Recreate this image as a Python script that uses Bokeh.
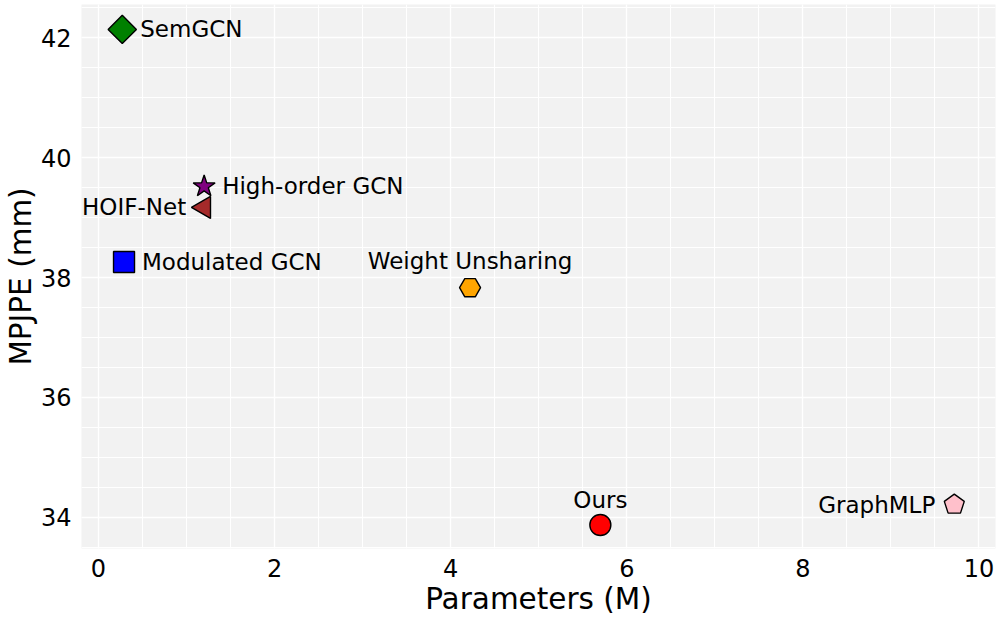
import math
from bokeh.plotting import figure
from bokeh.models import Range1d, SingleIntervalTicker, ColumnDataSource
from bokeh.embed import file_html
from bokeh.resources import INLINE
from bokeh.core.properties import value

# ---- data ----
methods = ["SemGCN", "High-order GCN", "HOIF-Net", "Modulated GCN",
           "Weight Unsharing", "Ours", "GraphMLP"]
params_m = [0.27, 1.20, 1.20, 0.29, 4.22, 5.70, 9.72]
mpjpe_mm = [42.14, 39.52, 39.17, 38.26, 37.83, 33.87, 34.21]
colors = ["green", "purple", "brown", "blue", "orange", "red", "pink"]

# ---- styles ----
markers = ["square", "star", "triangle", "square", "hex", "circle", None]
sizes = [20, 23, 22, 21, 21, 21, 0]
angles = [math.pi / 4, 0, math.pi / 2, 0, 0, 0, 0]
lab_dx = [18, 18, -18, 18, 0, 0, -19]
lab_dy = [0, 0, 0, 0, -14, -12, 0]
lab_align = ["left", "left", "right", "left", "center", "center", "right"]
lab_base = ["middle", "middle", "middle", "middle", "bottom", "bottom", "middle"]

FONT = "DejaVu Sans"

p = figure(width=996, height=618, output_backend="svg", toolbar_location=None,
           x_range=Range1d(-0.193, 10.188), y_range=Range1d(33.478, 42.556),
           min_border_left=0, min_border_top=4, min_border_right=1,
           min_border_bottom=0)
p.background_fill_color = "#f2f2f2"
p.border_fill_color = "white"
p.outline_line_color = None

p.xaxis.ticker = SingleIntervalTicker(interval=2, num_minor_ticks=4)
p.yaxis.ticker = SingleIntervalTicker(interval=2, num_minor_ticks=4)
for ax in (p.xaxis, p.yaxis):
    ax.axis_line_color = None
    ax.major_tick_line_color = None
    ax.minor_tick_line_color = None
    ax.major_tick_out = 0
    ax.minor_tick_out = 0
    ax.major_label_text_font = FONT
    ax.major_label_text_font_size = "24px"
    ax.major_label_text_color = "black"
    ax.axis_label_text_font = FONT
    ax.axis_label_text_font_size = "29.5px"
    ax.axis_label_text_font_style = "normal"
    ax.axis_label_text_color = "black"
p.xaxis.axis_label = "Parameters (M)"
p.yaxis.axis_label = "MPJPE (mm)"
p.xaxis.major_label_standoff = 10
p.yaxis.major_label_standoff = 10
p.xaxis.axis_label_standoff = 2
p.yaxis.axis_label_standoff = 0

for g in (p.xgrid, p.ygrid):
    g.grid_line_color = "white"
    g.grid_line_width = 1.3
    g.minor_grid_line_color = "white"
    g.minor_grid_line_width = 1.0

n = len(methods) - 1
src = ColumnDataSource(dict(x=params_m[:n], y=mpjpe_mm[:n], color=colors[:n],
                            marker=markers[:n], size=sizes[:n], angle=angles[:n]))
p.scatter(x="x", y="y", marker="marker", size="size", angle="angle",
          fill_color="color", line_color="black", line_width=1.4, source=src)

# pentagon for GraphMLP
p.ngon(x=params_m[n:], y=mpjpe_mm[n:], radius=10.5, radius_units="screen", n=5,
       fill_color=colors[n], line_color="black", line_width=1.4)

tsrc = ColumnDataSource(dict(x=params_m, y=mpjpe_mm, text=methods, dx=lab_dx,
                             dy=lab_dy, align=lab_align, base=lab_base))
p.text(x="x", y="y", text="text", x_offset="dx", y_offset="dy",
       text_align="align", text_baseline="base", text_font=value(FONT),
       text_font_size="23px", text_color="black", source=tsrc)

open("out.html", "w").write(file_html(p, INLINE))
